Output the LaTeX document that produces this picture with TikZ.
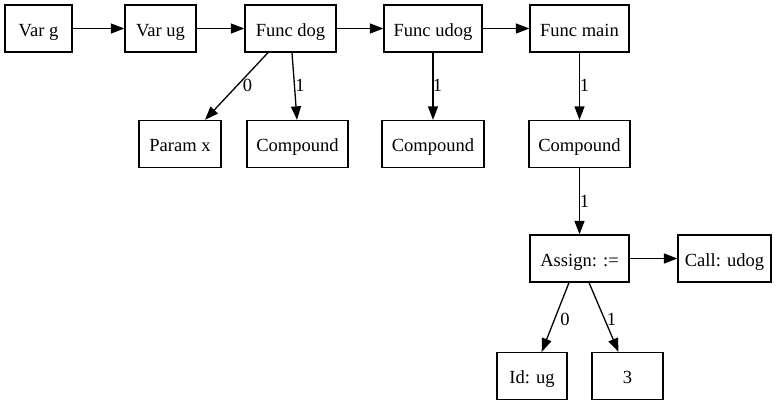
\documentclass[tikz,border=0pt]{standalone}
\usepackage{fontspec}
\setmainfont{Liberation Serif}
\usetikzlibrary{arrows.meta}
\begin{document}
\begin{tikzpicture}[x=1bp,y=-1bp,
  box/.style={draw, line width=1.3bp, minimum height=47bp, inner sep=0pt,
    text height=19.5bp, text depth=4.5bp,
    font=\fontsize{18.6}{22}\selectfont},
  edge/.style={line width=1.3bp, -{Triangle[length=13.5bp,width=10bp]}},
  lbl/.style={font=\fontsize{18.6}{22}\selectfont, inner sep=0pt}]
\useasboundingbox (0,0) rectangle (781,407);
% top row
\node[box, minimum width=67bp] (varg) at (38.5,28.5) {Var g};
\node[box, minimum width=71bp] (varug) at (160.5,28.5) {Var ug};
\node[box, minimum width=91bp] (fdog) at (290.5,28.5) {Func dog};
\node[box, minimum width=98bp] (fudog) at (433,28.5) {Func udog};
\node[box, minimum width=99bp] (fmain) at (579.5,28.5) {Func main};
% second row
\node[box, minimum width=82bp] (px) at (180,144) {Param x};
\node[box, minimum width=101bp] (cdog) at (297.5,144) {Compound};
\node[box, minimum width=102bp] (cudog) at (433,144) {Compound};
\node[box, minimum width=101bp] (cmain) at (579.5,144) {Compound};
% assignment
\node[box, minimum width=99bp] (assign) at (579.5,258.5) {Assign: :=};
\node[box, minimum width=93bp] (call) at (724.5,258.5) {Call: udog};
\node[box, minimum width=70bp] (id) at (532,376) {Id: ug};
\node[box, minimum width=71bp] (three) at (627.5,376) {3};
% chain along the top
\draw[edge] (varg) -- (varug);
\draw[edge] (varug) -- (fdog);
\draw[edge] (fdog) -- (fudog);
\draw[edge] (fudog) -- (fmain);
% children
\draw[edge] ([xshift=-22.5bp]fdog.south) -- ([xshift=25bp]px.north);
\draw[edge] ([xshift=1.5bp]fdog.south) -- ([xshift=-0.5bp]cdog.north);
\draw[edge] (fudog) -- (cudog);
\draw[edge] (fmain) -- (cmain);
\draw[edge] (cmain) -- (assign);
\draw[edge] (assign) -- (call);
\draw[edge] ([xshift=-10.5bp]assign.south) -- ([xshift=9.7bp]id.north);
\draw[edge] ([xshift=9.5bp]assign.south) -- ([xshift=-9bp]three.north);
% edge labels
\node[lbl] (l1) at (247.5,85) {0};
\node[lbl] (l2) at (300,85) {1};
\node[lbl] (l3) at (437.5,85) {1};
\node[lbl] (l4) at (584.5,85) {1};
\node[lbl] (l5) at (584.5,201) {1};
\node[lbl] (l6) at (565,319) {0};
\node[lbl] (l7) at (611.5,319) {1};
\end{tikzpicture}
\end{document}
